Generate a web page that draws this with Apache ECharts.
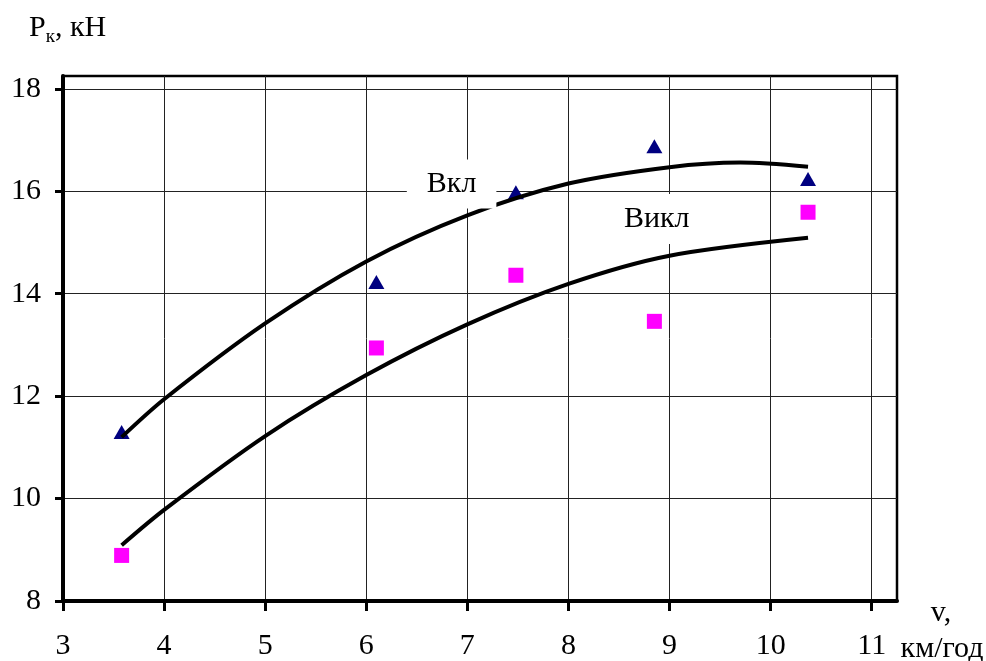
<!DOCTYPE html>
<html>
<head>
<meta charset="utf-8">
<script src="https://cdn.jsdelivr.net/npm/echarts@6/dist/echarts.min.js"></script>
<style>
html,body{margin:0;padding:0;background:#fff;}
#chart{width:986px;height:661px;}
</style>
</head>
<body>
<div id="chart"></div>
<script>
// ---- data ----
const xTicks = [3, 4, 5, 6, 7, 8, 9, 10, 11];
const yTicks = [8, 10, 12, 14, 16, 18];
const speedValues = [3.58, 6.1, 7.48, 8.85, 10.37];
const onValues = [11.3, 14.23, 15.98, 16.88, 16.24];   // Вкл (triangles)
const offValues = [8.89, 12.94, 14.36, 13.46, 15.59];  // Викл (squares)
const onCurveX = [3.58, 4, 5, 6, 7, 8, 9, 9.7, 10.37];
const onCurveY = [11.2, 11.94, 13.42, 14.63, 15.53, 16.15, 16.47, 16.56, 16.48];
const offCurveX = [3.58, 4, 5, 6, 7, 8, 9, 10.37];
const offCurveY = [9.09, 9.78, 11.22, 12.41, 13.4, 14.19, 14.74, 15.09];
const curveLabels = ['Вкл', 'Викл'];
const curveLabelX = [6.844, 8.873];
const curveLabelY = [16.14, 15.46];

const zip = (a, b) => a.map((v, i) => [v, b[i]]);
const FONT = 'Liberation Serif';

const chart = echarts.init(document.getElementById('chart'));
chart.setOption({
  animation: false,
  backgroundColor: '#fff',
  grid: {
    left: 63, top: 76, width: 834, height: 529,
    show: true, borderColor: '#000', borderWidth: 2.5, backgroundColor: 'transparent'
  },
  xAxis: {
    type: 'value', min: 3, max: 11.25, interval: 1,
    axisLine: { show: true, onZero: false, lineStyle: { color: '#000', width: 4 } },
    axisTick: { show: true, length: 10, lineStyle: { color: '#000', width: 3 }, customValues: xTicks },
    axisLabel: { customValues: xTicks, margin: 30, color: '#000', fontFamily: FONT, fontSize: 30 },
    splitLine: { show: true, lineStyle: { color: '#222', width: 1 } }
  },
  yAxis: {
    type: 'value', min: 8, max: 18.25, interval: 2,
    axisLine: { show: true, onZero: false, lineStyle: { color: '#000', width: 4 } },
    axisTick: { show: true, length: 8, lineStyle: { color: '#000', width: 3 }, customValues: yTicks },
    axisLabel: { customValues: yTicks, margin: 22, color: '#000', fontFamily: FONT, fontSize: 30 },
    splitLine: { show: true, lineStyle: { color: '#222', width: 1 } }
  },
  graphic: [
    {
      type: 'text', left: 29, top: 13,
      style: {
        text: '{a|P}{b|к}{a|, кН}',
        rich: {
          a: { fontFamily: FONT, fontSize: 30, fill: '#000', verticalAlign: 'bottom' },
          b: { fontFamily: FONT, fontSize: 19, fill: '#000', verticalAlign: 'bottom', padding: [0, 0, -4, 0] }
        }
      }
    },
    {
      type: 'text', x: 941, y: 613,
      style: { text: 'v,', fontFamily: FONT, fontSize: 30, fill: '#000', align: 'center', verticalAlign: 'middle' }
    },
    {
      type: 'text', x: 942, y: 649,
      style: { text: 'км/год', fontFamily: FONT, fontSize: 30, fill: '#000', align: 'center', verticalAlign: 'middle' }
    }
  ],
  series: [
    {
      type: 'scatter', z: 2, symbol: 'triangle', symbolSize: [16, 14],
      itemStyle: { color: '#000080', opacity: 1 },
      data: zip(speedValues, onValues)
    },
    {
      type: 'scatter', z: 2, symbol: 'rect', symbolSize: 15,
      itemStyle: { color: '#ff00ff', opacity: 1 },
      data: zip(speedValues, offValues)
    },
    {
      type: 'line', z: 3, smooth: 0.3, showSymbol: false, symbol: 'none',
      lineStyle: { color: '#000', width: 4 },
      data: zip(onCurveX, onCurveY)
    },
    {
      type: 'line', z: 3, smooth: 0.3, showSymbol: false, symbol: 'none',
      lineStyle: { color: '#000', width: 4 },
      data: zip(offCurveX, offCurveY)
    },
    {
      type: 'scatter', z: 10, symbolSize: 1, itemStyle: { color: 'rgba(255,255,255,0)', opacity: 1 },
      label: {
        show: true, position: 'inside',
        formatter: p => curveLabels[p.dataIndex],
        fontFamily: FONT, fontSize: 30, color: '#000', lineHeight: 30, opacity: 1,
        backgroundColor: '#fff'
      },
      data: [
        { value: [curveLabelX[0], curveLabelY[0]], label: { padding: [7, 20, 12, 20] } },
        { value: [curveLabelX[1], curveLabelY[1]], label: { padding: [10, 20, 10, 20] } }
      ]
    }
  ]
});
</script>
</body>
</html>
